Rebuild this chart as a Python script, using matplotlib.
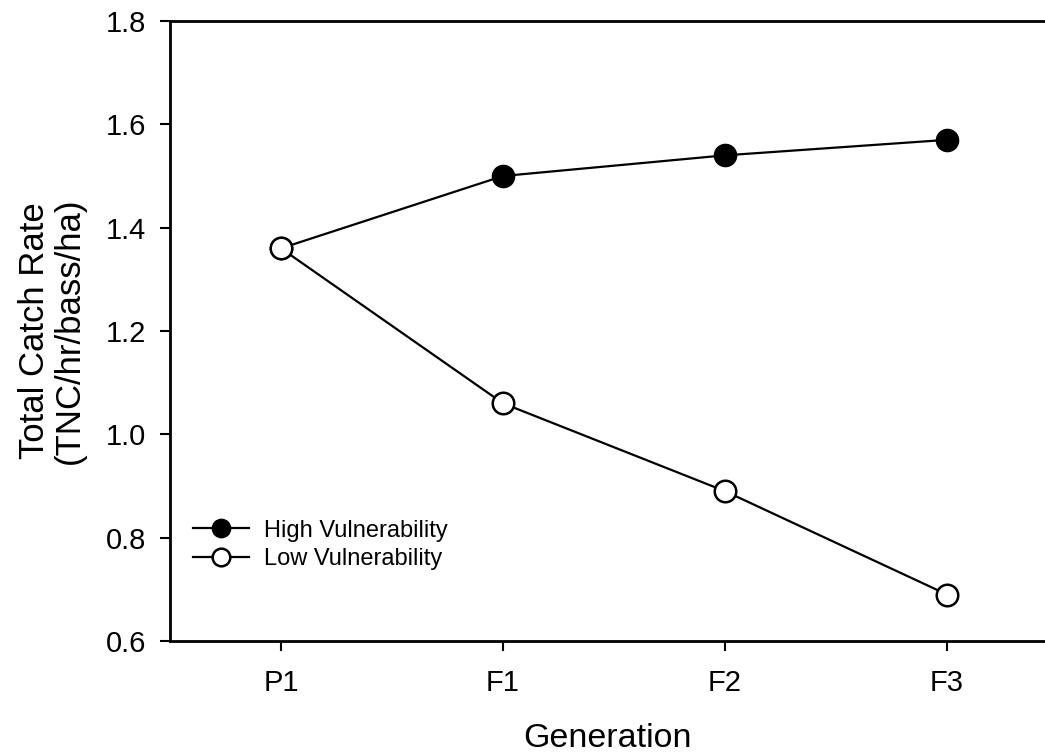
import matplotlib
matplotlib.use("Agg")
import matplotlib.pyplot as plt

plt.rcParams['font.family'] = ['Liberation Sans', 'DejaVu Sans']

generations = ["P1", "F1", "F2", "F3"]
high_vuln = [1.36, 1.50, 1.54, 1.57]
low_vuln = [1.36, 1.06, 0.89, 0.69]
y_ticks = [0.6, 0.8, 1.0, 1.2, 1.4, 1.6, 1.8]

fig = plt.figure(figsize=(10.45, 7.53), dpi=100)
ax = fig.add_axes([170/1045, 112/753, 1 - 170/1045, (641-21)/753])

x = list(range(len(generations)))
ax.plot(x, high_vuln, color='black', lw=1.6, marker='o', ms=15.5,
        mfc='black', mec='black', mew=1.5, label='High Vulnerability', zorder=3)
ax.plot(x, low_vuln, color='black', lw=1.6, marker='o', ms=15.5,
        mfc='white', mec='black', mew=1.8, label='Low Vulnerability', zorder=3)

ax.set_xlim(-0.5, (1045-170)/222 - 0.5)
ax.set_ylim(0.6, 1.8)
ax.set_xticks(x)
ax.set_xticklabels(generations)
ax.set_yticks(y_ticks)
ax.set_yticklabels([f"{v:.1f}" for v in y_ticks])
ax.spines['right'].set_visible(False)
for s in ['left', 'bottom', 'top']:
    ax.spines[s].set_linewidth(2)
ax.tick_params(direction='out', length=7.2, width=1.5, labelsize=21)
ax.tick_params(axis='y', pad=10)
ax.tick_params(axis='x', pad=13)

ax.set_xlabel("Generation", fontsize=24.5, labelpad=19)
ax.set_ylabel("Total Catch Rate\n(TNC/hr/bass/ha)", fontsize=25, labelpad=14, linespacing=1.1)

leg = ax.legend(loc='center left', bbox_to_anchor=(23/875, 0.155), frameon=False,
                fontsize=17, markerscale=0.82, handlelength=2.37, handletextpad=0.62,
                labelspacing=0.27, borderpad=0, borderaxespad=0)

fig.savefig("out.png", dpi=100)
